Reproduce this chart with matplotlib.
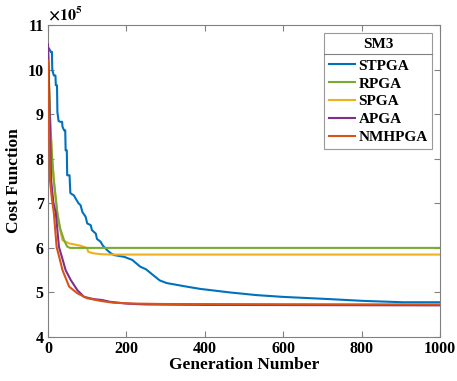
import matplotlib
matplotlib.use("Agg")
import matplotlib.pyplot as plt
from matplotlib.lines import Line2D

# ---- data (generation, cost /1e5) ----
stpga_x = [0, 3, 7, 10, 11, 15, 19, 20, 23, 24, 27, 31, 36, 37, 41, 44, 45, 48, 49, 55, 57, 62, 66, 71,
           78, 83, 88, 96, 100, 109, 112, 122, 125, 134, 140, 151, 160, 168, 194, 215, 235, 250, 268,
           285, 303, 354, 388, 464, 532, 600, 719, 805, 906, 1000]
stpga_y = [10.50, 10.47, 10.40, 10.40, 9.99, 9.87, 9.87, 9.65, 9.65, 9.05, 8.85, 8.83, 8.83, 8.72,
           8.64, 8.64, 8.19, 8.19, 7.63, 7.63, 7.23, 7.20, 7.18, 7.10, 7.00, 6.96, 6.80, 6.70, 6.55,
           6.51, 6.40, 6.32, 6.20, 6.14, 6.05, 5.95, 5.88, 5.84, 5.80, 5.73, 5.58, 5.52, 5.39, 5.27,
           5.21, 5.13, 5.08, 5.00, 4.94, 4.90, 4.85, 4.81, 4.78, 4.78]

rpga_x = [0, 5, 10, 15, 24, 31, 41, 49, 56, 100, 1000]
rpga_y = [10.45, 9.0, 8.1, 7.52, 6.78, 6.44, 6.17, 6.03, 6.00, 6.00, 6.00]

spga_x = [0, 5, 10, 15, 24, 31, 37, 54, 83, 99, 103, 115, 133, 160, 1000]
spga_y = [10.45, 8.95, 8.05, 7.48, 6.74, 6.40, 6.17, 6.10, 6.05, 6.00, 5.91, 5.88, 5.86, 5.85, 5.85]

apga_x = [0, 3, 8, 14, 20, 28, 37, 45, 58, 75, 92, 117, 138, 158, 200, 250, 400, 1000]
apga_y = [10.57, 9.5, 7.52, 7.0, 6.78, 6.02, 5.75, 5.50, 5.28, 5.05, 4.90, 4.85, 4.83, 4.79, 4.75, 4.73, 4.72, 4.71]

nmh_x = [0, 2, 5, 10, 15, 22, 30, 37, 54, 75, 100, 134, 166, 220, 300, 1000]
nmh_y = [10.21, 9.0, 7.52, 7.1, 6.78, 6.02, 5.75, 5.50, 5.13, 4.98, 4.87, 4.81, 4.77, 4.75, 4.74, 4.73]

series_names = ["STPGA", "RPGA", "SPGA", "APGA", "NMHPGA"]
series_colors = ["#0072BD", "#77AC30", "#EDB120", "#7E2F8E", "#D95319"]
series_z = [2, 3.5, 3, 4, 5]
x_ticks = [0, 200, 400, 600, 800, 1000]
y_ticks = [4, 5, 6, 7, 8, 9, 10, 11]

plt.rcParams['font.family'] = ['Liberation Serif', 'DejaVu Serif']
plt.rcParams['font.weight'] = 'bold'
plt.rcParams['mathtext.fontset'] = 'stix'

fig = plt.figure(figsize=(4.57, 3.81), dpi=100)
ax = fig.add_axes([0.105, 0.1155, 0.858, 0.8185])

data = [(stpga_x, stpga_y), (rpga_x, rpga_y), (spga_x, spga_y), (apga_x, apga_y), (nmh_x, nmh_y)]
for i in range(5):
    xs, ys = data[i]
    ax.plot(xs, ys, color=series_colors[i], lw=1.5, label=series_names[i], zorder=series_z[i])

ax.set_xlim(0, 1000)
ax.set_ylim(4, 11)
ax.set_xticks(x_ticks)
ax.set_yticks(y_ticks)
ax.set_xticklabels([str(t) for t in x_ticks], fontsize=11.5, fontweight='bold')
ax.set_yticklabels([str(t) for t in y_ticks], fontsize=11.5, fontweight='bold')
ax.tick_params(direction='in', top=True, right=True, length=4, color='#808080', pad=3)
for s in ax.spines.values():
    s.set_color('#808080')
    s.set_linewidth(0.8)

ax.set_xlabel("Generation Number", fontsize=12.5, fontweight='bold', labelpad=0)
ax.set_ylabel("Cost Function", fontsize=12.5, fontweight='bold', labelpad=4)
ax.text(0.0, 1.003, r"$\times10^5$", transform=ax.transAxes, fontsize=11.5, ha='left', va='bottom')

leg = ax.legend(title="SM3", loc='upper right', bbox_to_anchor=(0.98, 0.975),
                prop={'weight': 'bold', 'size': 11}, title_fontproperties={'weight': 'bold', 'size': 11},
                frameon=True, fancybox=False, edgecolor='#808080', handlelength=1.75,
                handletextpad=0.2, labelspacing=0.28, borderpad=0.3, borderaxespad=0)
leg.get_frame().set_linewidth(0.8)
leg._legend_box.sep = 6

fig.canvas.draw()
r = fig.canvas.get_renderer()
lb = leg.get_window_extent(r)
tb = leg.get_title().get_window_extent(r)
inv = fig.transFigure.inverted()
y_sep = inv.transform((0, tb.y0 - 3))[1]
x0 = inv.transform((lb.x0, 0))[0]
x1 = inv.transform((lb.x1, 0))[0]
fig.add_artist(Line2D([x0, x1], [y_sep, y_sep], color='#808080', lw=0.8, transform=fig.transFigure))

fig.savefig("out.png", dpi=100)
